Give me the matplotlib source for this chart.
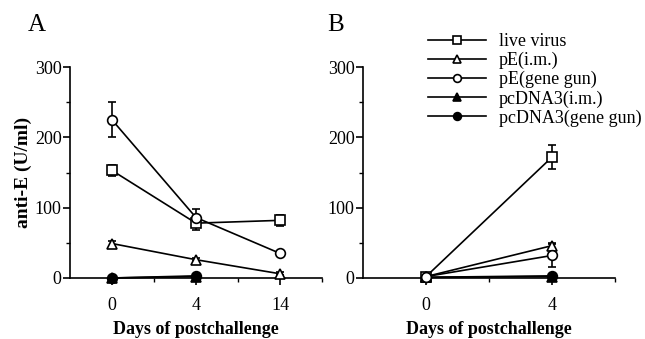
import matplotlib
matplotlib.use("Agg")
import matplotlib.pyplot as plt
from matplotlib.ticker import MultipleLocator, FixedLocator

plt.rcParams['font.family'] = ['Liberation Serif', 'DejaVu Serif']

# panel A data (days 0, 4, 14)
days_a = ['0', '4', '14']
live_a = [153, 78, 82]
live_a_err = [8, 10, 8]
pe_im_a = [49, 26, 6]
pe_im_a_err = [4, 2, 2]
pe_gg_a = [225, 86, 35]
pe_gg_a_err = [25, 12, 3]
pc_im_a = [0, 2]
pc_gg_a = [0, 3]

# panel B data (days 0, 4)
days_b = ['0', '4']
live_b = [2, 172]
live_b_err = [1, 17]
pe_im_b = [2, 46]
pe_im_b_err = [1, 4]
pe_gg_b = [2, 32]
pe_gg_b_err = [1, 16]
pc_im_b = [1, 2]
pc_gg_b = [1, 3]

labels = ['live virus', 'pE(i.m.)', 'pE(gene gun)', 'pcDNA3(i.m.)', 'pcDNA3(gene gun)']

fig = plt.figure(figsize=(6.45, 3.39), dpi=100)
axA = fig.add_axes([0.1085, 0.18, 0.3907, 0.622])
axB = fig.add_axes([0.5628, 0.18, 0.3907, 0.622])

def series(ax, y, err, marker, fc):
    x = list(range(len(y)))
    kw = dict(color='black', marker=marker, markersize=7, markerfacecolor=fc,
              markeredgecolor='black', markeredgewidth=1.2, lw=1.2, clip_on=False, zorder=3)
    if err is None:
        return ax.plot(x, y, **kw)[0]
    h = ax.errorbar(x, y, yerr=err, capsize=3, elinewidth=1.2, capthick=1.2, **kw)
    return h.lines[0]

def draw(ax, cats, live, live_e, pim, pim_e, pgg, pgg_e, cim, cgg):
    hs = []
    hs.append(series(ax, live, live_e, 's', 'white'))
    hs.append(series(ax, pim, pim_e, '^', 'white'))
    hs.append(series(ax, pgg, pgg_e, 'o', 'white'))
    hs.append(series(ax, cim, None, '^', 'black'))
    hs.append(series(ax, cgg, None, 'o', 'black'))
    n = len(cats)
    ax.set_xlim(-0.5, n - 0.5)
    ax.set_ylim(0, 300)
    ax.set_xticks(range(n))
    ax.set_xticklabels(cats)
    ax.xaxis.set_minor_locator(FixedLocator([i + 0.5 for i in range(n)]))
    ax.yaxis.set_major_locator(MultipleLocator(100))
    ax.yaxis.set_minor_locator(MultipleLocator(50))
    ax.spines['top'].set_visible(False)
    ax.spines['right'].set_visible(False)
    for s in ['left', 'bottom']:
        ax.spines[s].set_linewidth(1.2)
    ax.tick_params(which='major', direction='out', length=5, width=1.2, labelsize=13)
    ax.tick_params(which='minor', direction='out', length=3, width=1.0)
    ax.tick_params(axis='x', pad=9)
    ax.tick_params(axis='y', pad=1)
    ax.set_xlabel('Days of postchallenge', fontsize=13, fontweight='bold', labelpad=5)
    return hs

draw(axA, days_a, live_a, live_a_err, pe_im_a, pe_im_a_err, pe_gg_a, pe_gg_a_err, pc_im_a, pc_gg_a)
hs = draw(axB, days_b, live_b, live_b_err, pe_im_b, pe_im_b_err, pe_gg_b, pe_gg_b_err, pc_im_b, pc_gg_b)

axA.set_ylabel('anti-E (U/ml)', fontsize=14, fontweight='bold', labelpad=2)

axB.legend(hs, labels, loc='upper left', bbox_to_anchor=(0.23, 1.195), frameon=False,
           fontsize=13, handlelength=3.2, labelspacing=0.1, handletextpad=0.7,
           markerscale=0.8, borderaxespad=0)

fig.text(0.043, 0.9085, 'A', fontsize=18)
fig.text(0.507, 0.9085, 'B', fontsize=18)

fig.savefig('out.png', dpi=100)
